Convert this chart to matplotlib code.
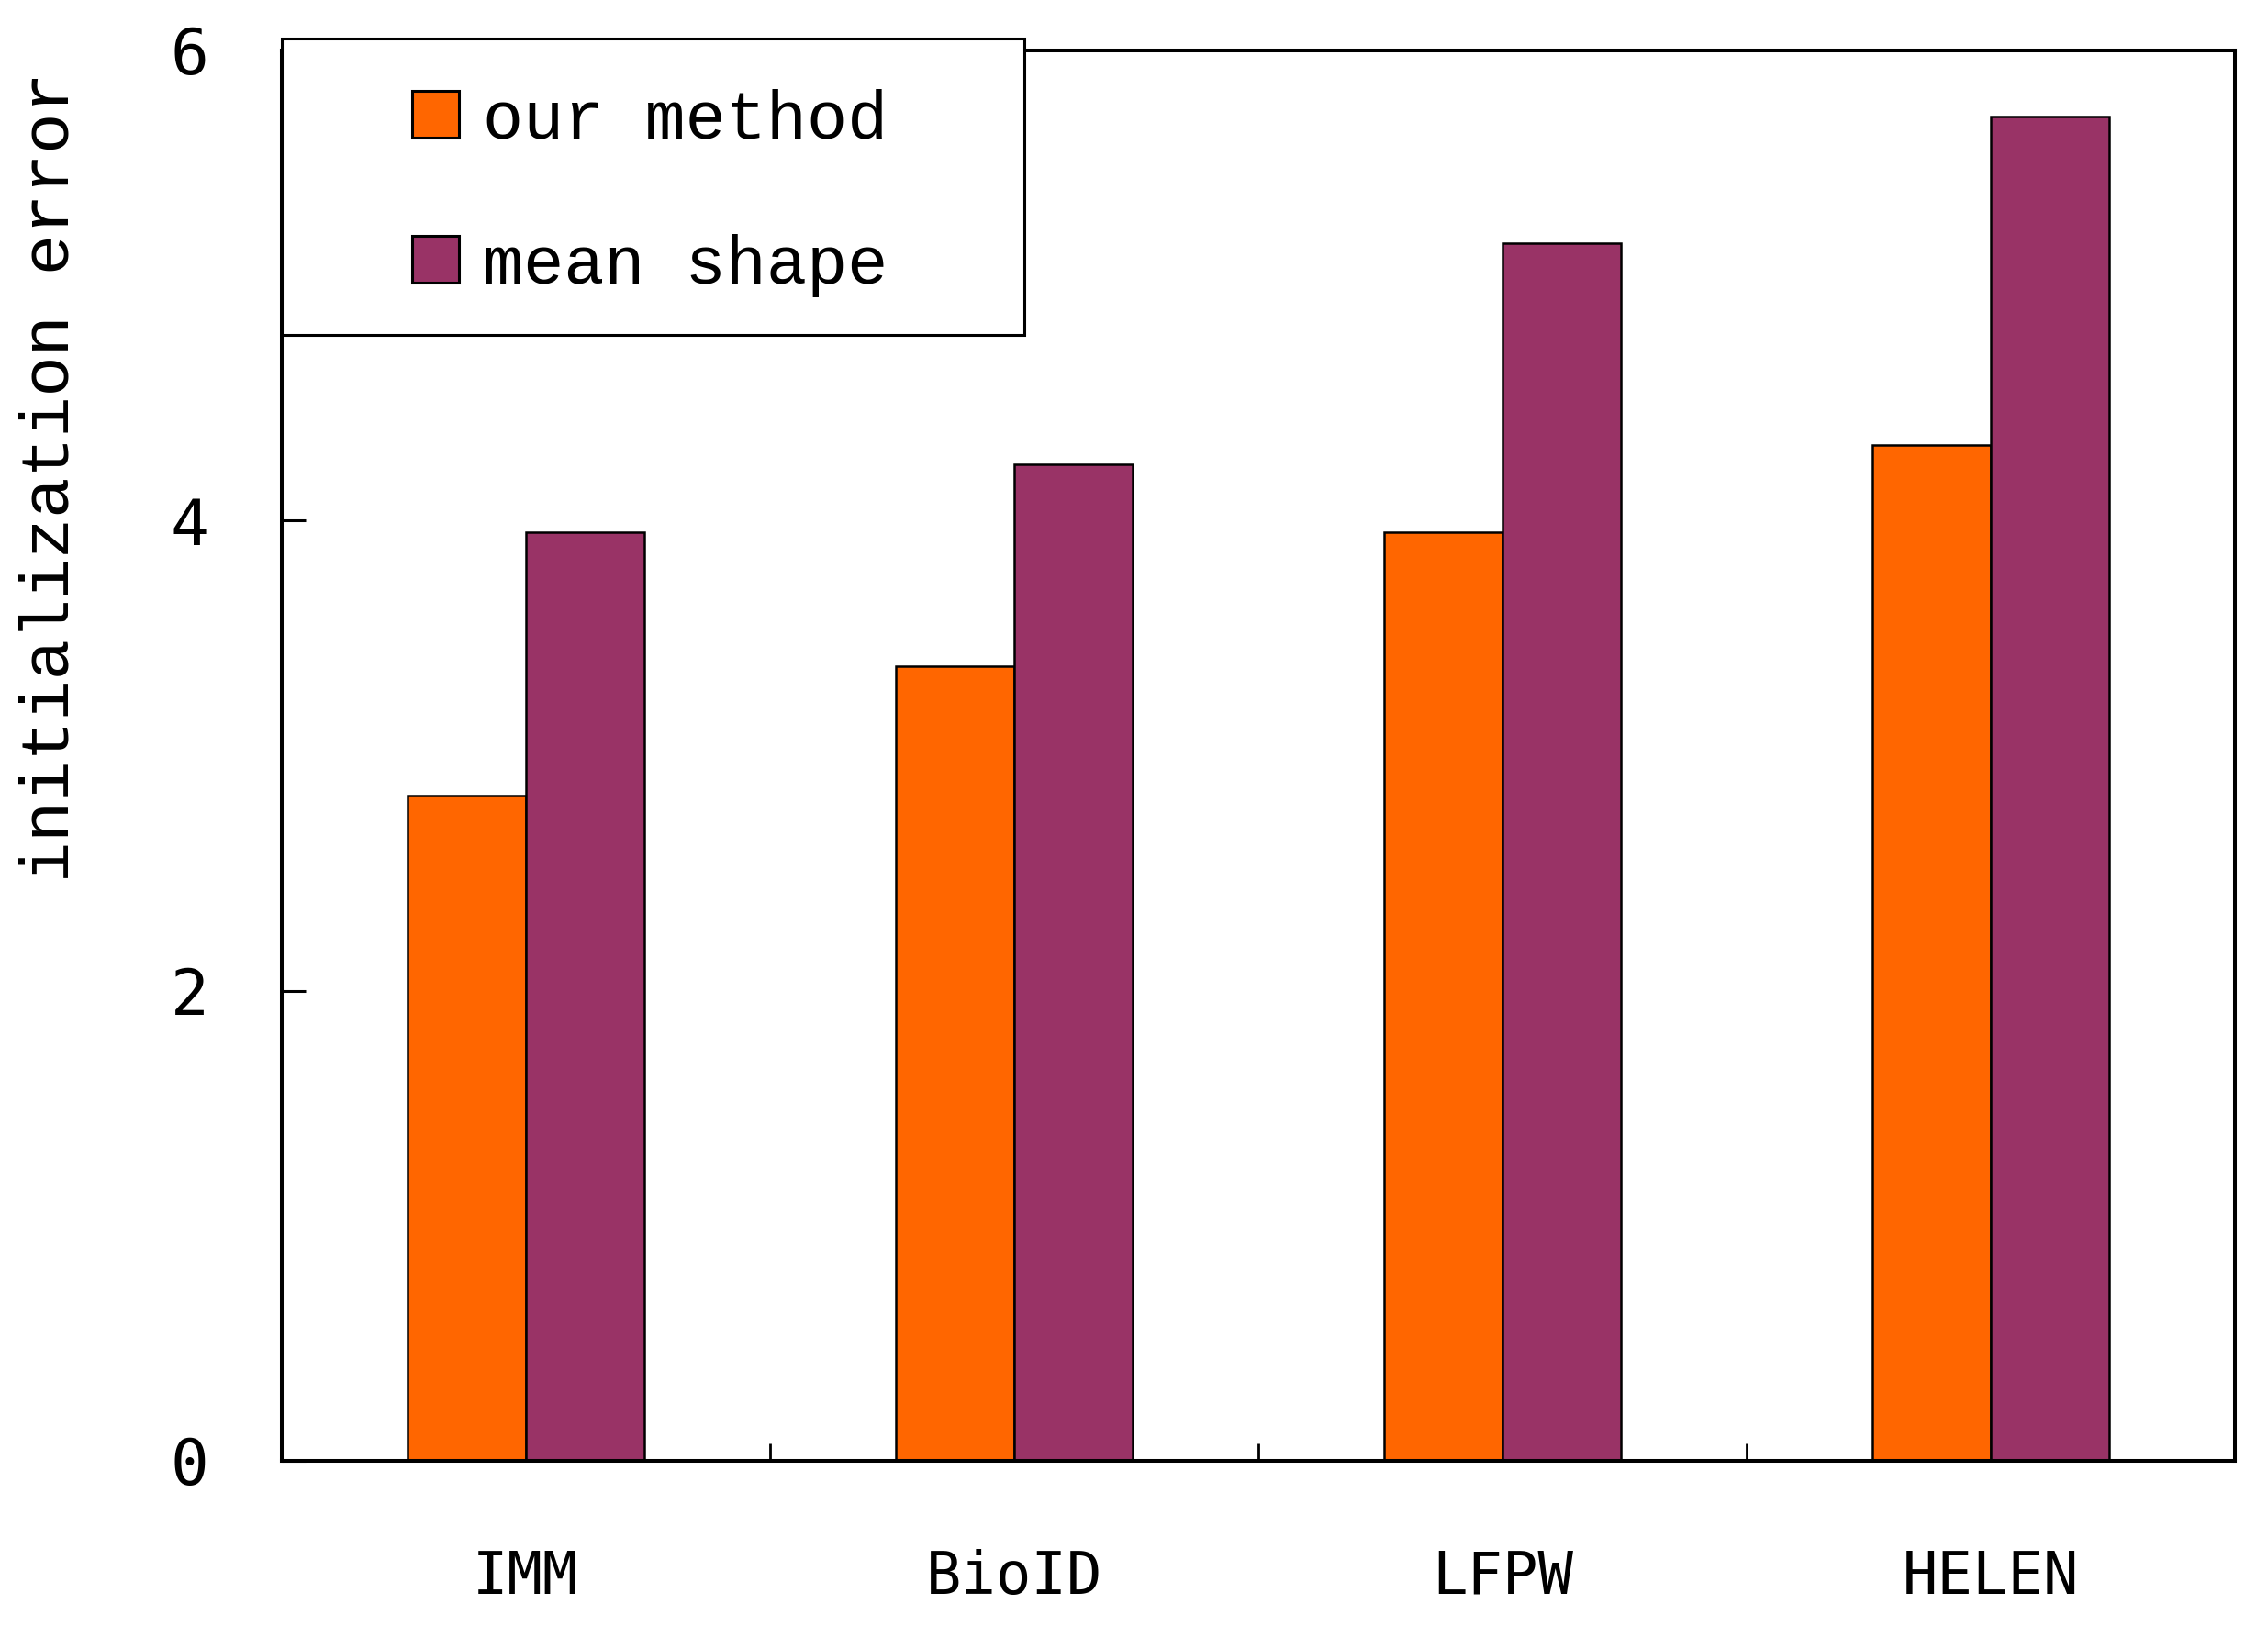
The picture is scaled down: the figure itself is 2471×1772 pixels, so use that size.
import numpy as np
import matplotlib
matplotlib.use('Agg')
import matplotlib.pyplot as plt
from matplotlib.patches import Rectangle

# Data
datasets = ['IMM', 'BioID', 'LFPW', 'HELEN']
our_method = [2.83, 3.38, 3.95, 4.32]
mean_shape = [3.95, 4.24, 5.18, 5.72]
y_ticks = [0, 2, 4, 6]

orange = '#FF6600'
purple = '#993366'

fig = plt.figure(figsize=(24.71, 17.72), dpi=100)
ax = fig.add_axes([0.1242, 0.1016, 0.8612, 0.8674])

x = np.arange(len(datasets)) + 0.5
w = 0.243
ax.bar(x - w / 2, our_method, w, color=orange, edgecolor='black', linewidth=1.8,
       label='our method')
ax.bar(x + w / 2, mean_shape, w, color=purple, edgecolor='black', linewidth=1.8,
       label='mean shape')

ax.set_xlim(0, len(datasets))
ax.set_ylim(0, 6)

# y axis
ax.set_yticks(y_ticks)
ax.set_yticklabels([str(t) for t in y_ticks], family='DejaVu Sans Mono', fontsize=50)
ax.tick_params(axis='y', direction='in', length=19, width=2.2, pad=57)

# x axis: ticks between groups, labels at group centres
ax.set_xticks([1, 2, 3])
ax.set_xticklabels([])
ax.tick_params(axis='x', which='major', direction='in', length=14, width=2)
ax.set_xticks(x, minor=True)
ax.set_xticklabels(datasets, minor=True, family='DejaVu Sans Mono', fontsize=46)
ax.tick_params(axis='x', which='minor', length=0, pad=69)

for s in ax.spines.values():
    s.set_linewidth(2.9)

# y label placed like the original (slightly above centre)
fig.text(55 / 2471, 1 - 520 / 1772, 'initialization error', rotation=90,
         ha='center', va='center', family='Liberation Mono', fontsize=53)

# legend box
box = Rectangle((307 / 2471, 1 - 365 / 1772), (1116 - 307) / 2471, (365 - 42) / 1772,
                transform=fig.transFigure, facecolor='white', edgecolor='black',
                linewidth=2.2, zorder=5)
fig.add_artist(box)
leg = fig.legend(loc='center left', bbox_to_anchor=(449 / 2471, 1 - 210 / 1772),
                 frameon=False, prop={'family': 'Liberation Mono', 'size': 53},
                 handlelength=0.69, handleheight=0.69, handletextpad=0.35,
                 labelspacing=1.21, borderpad=0, borderaxespad=0)
leg.set_zorder(6)
for h in leg.legend_handles:
    h.set_linewidth(2.2)

plt.savefig('out.png', dpi=100)
